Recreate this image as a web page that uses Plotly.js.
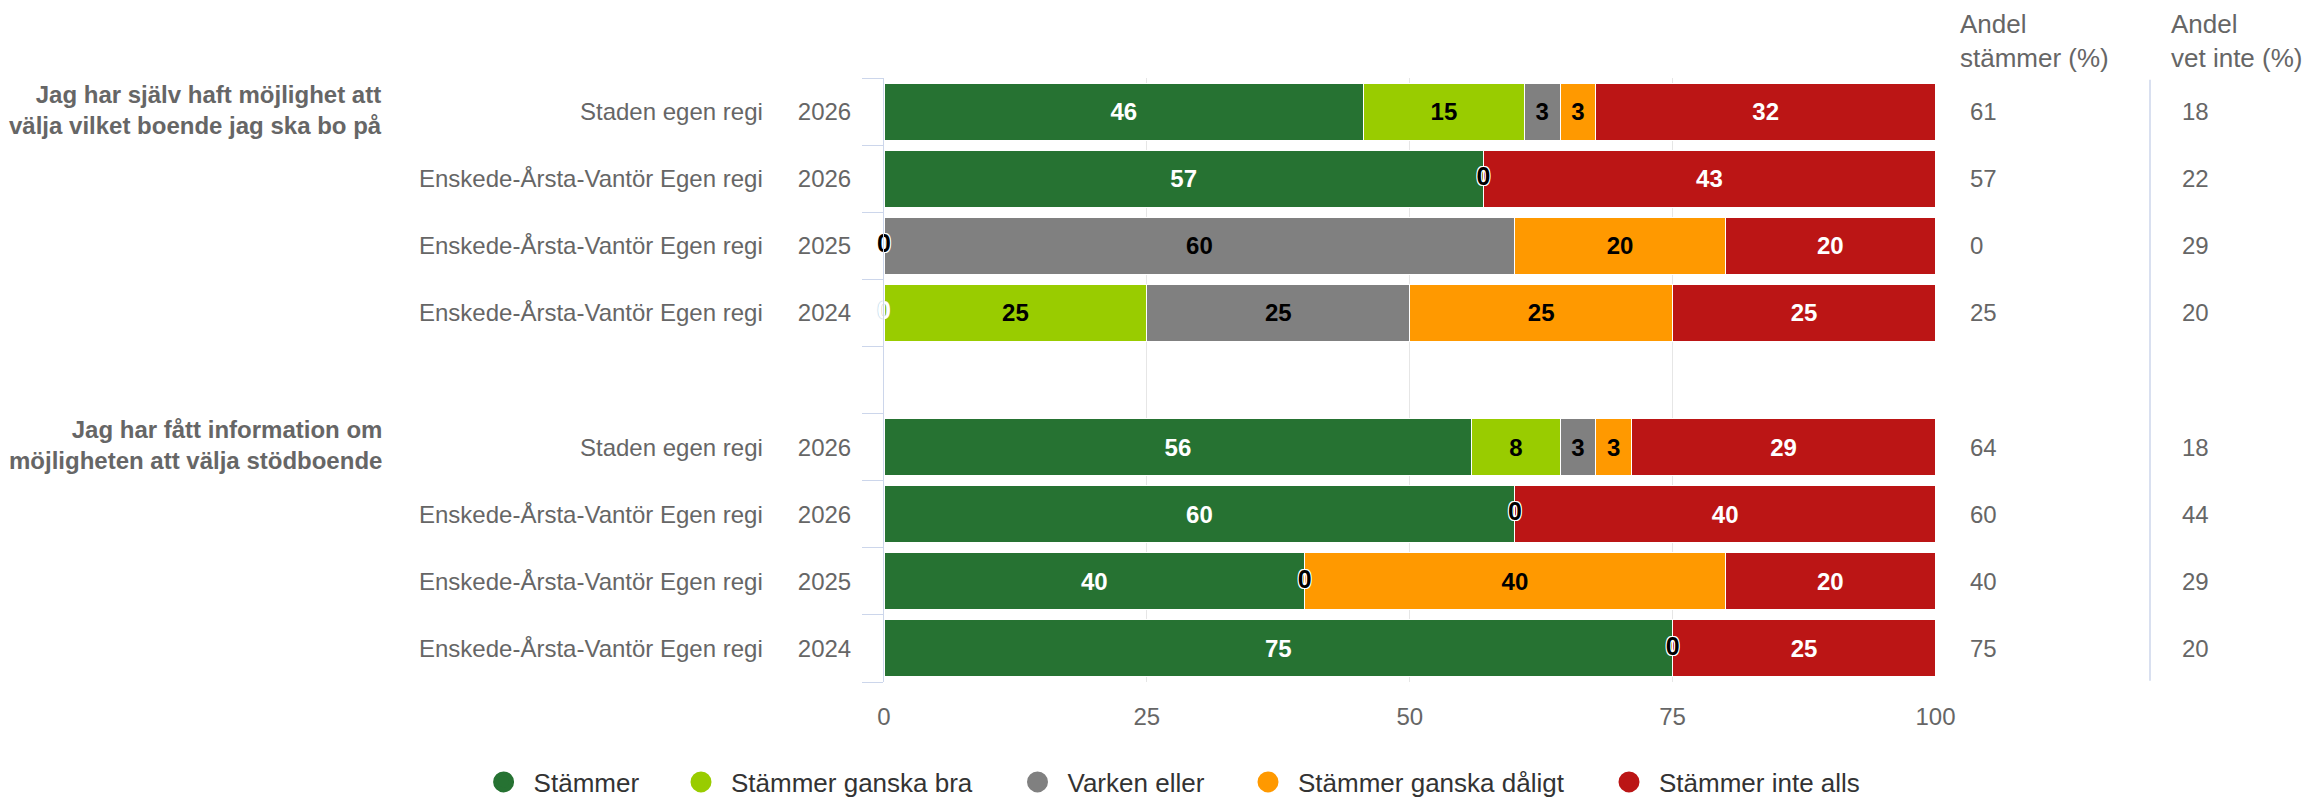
<!DOCTYPE html>
<html><head><meta charset="utf-8">
<script src="https://cdn.plot.ly/plotly-3.0.1.min.js"></script>
<style>html,body{margin:0;padding:0;background:#fff;} #chart{width:2307px;height:798px;}</style>
</head><body><div id="chart"></div>
<script>
// ---------- data ----------
const questions = ['Jag har själv haft möjlighet att<br>välja vilket boende jag ska bo på',
                   'Jag har fått information om<br>möjligheten att välja stödboende'];
const rowIds = ['r1','r2','r3','r4','gap','r5','r6','r7','r8'];
const rowQuestion = [0,0,0,0,null,1,1,1,1];
const units = ['Staden egen regi','Enskede-Årsta-Vantör Egen regi','Enskede-Årsta-Vantör Egen regi','Enskede-Årsta-Vantör Egen regi','',
               'Staden egen regi','Enskede-Årsta-Vantör Egen regi','Enskede-Årsta-Vantör Egen regi','Enskede-Årsta-Vantör Egen regi'];
const years = ['2026','2026','2025','2024','','2026','2026','2025','2024'];
const seriesNames = ['Stämmer','Stämmer ganska bra','Varken eller','Stämmer ganska dåligt','Stämmer inte alls'];
const stammer   = [45.6, 57, 0,  0, null, 55.9, 60, 40, 75];
const ganskaBra = [15.3,  0, 0, 25, null,  8.4,  0,  0,  0];
const varken    = [ 3.4,  0, 60, 25, null,  3.4,  0,  0,  0];
const daligt    = [ 3.4,  0, 20, 25, null,  3.4,  0, 40,  0];
const inteAlls  = [32.3, 43, 20, 25, null, 28.9, 40, 20, 25];
const andelStammer = [61, 57, 0, 25, null, 64, 60, 40, 75];
const andelVetInte = [18, 22, 29, 20, null, 18, 44, 29, 20];
const xTicks = [0, 25, 50, 75, 100];
const colHeaders = ['Andel<br>stämmer (%)', 'Andel<br>vet inte (%)'];

// ---------- style ----------
const FONT = 'Liberation Sans, Arial, Helvetica, sans-serif';
const colors = ['#267232','#99cc00','#808080','#ff9900','#bb1515'];
const textColors = ['#ffffff','#000000','#000000','#000000','#ffffff'];
const series = [stammer, ganskaBra, varken, daligt, inteAlls];

const W = 2307, H = 798;
const M = {l: 884, r: 371, t: 78, b: 116, autoexpand: false};
const PW = W - M.l - M.r, PH = H - M.t - M.b;
const px2x = p => (p - M.l) / PW;       // page x -> paper x
const py2y = p => (H - M.b - p) / PH;   // page y -> paper y

const traces = series.map((vals, i) => ({
  type: 'bar', orientation: 'h', name: seriesNames[i],
  x: vals, y: rowIds,
  marker: {color: colors[i], line: {color: '#ffffff', width: 1}},
  text: vals.map(v => (v ? String(Math.round(v)) : '')),
  textposition: 'inside', insidetextanchor: 'middle', textangle: 0,
  insidetextfont: {family: FONT, size: 24, color: textColors[i], weight: 'bold'},
  constraintext: 'none', cliponaxis: false,
  showlegend: false, hoverinfo: 'skip'
}));

// zero-value labels (shown once per stack position)
const zeroDark = {x: [], y: []}, zeroLight = {x: [], y: []};
rowIds.forEach((id, r) => {
  if (series[0][r] === null) return;
  let cum = 0; const at = {};
  series.forEach((vals, i) => {
    const v = vals[r];
    if (v === 0) {
      const k = cum.toFixed(3);
      at[k] = at[k] || {x: cum, dark: false};
      if (textColors[i] === '#000000') at[k].dark = true;
    }
    cum += v;
  });
  Object.values(at).forEach(p => { const t = p.dark ? zeroDark : zeroLight; t.x.push(p.x); t.y.push(id); });
});
traces.push({type: 'scatter', mode: 'text', x: zeroDark.x, y: zeroDark.y, text: zeroDark.x.map(() => '0'),
  textposition: 'middle center', cliponaxis: false, showlegend: false, hoverinfo: 'skip',
  textfont: {family: FONT, size: 25, color: '#000000', weight: 'bold',
             shadow: '1px 1px 0 #fff, -1px -1px 0 #fff, 1px -1px 0 #fff, -1px 1px 0 #fff, 0 1px 0 #fff, 0 -1px 0 #fff'}});
traces.push({type: 'scatter', mode: 'text', x: zeroLight.x, y: zeroLight.y, text: zeroLight.x.map(() => '0'),
  textposition: 'middle center', cliponaxis: false, showlegend: false, hoverinfo: 'skip',
  textfont: {family: FONT, size: 25, color: '#ffffff', weight: 'bold', shadow: '0 0 1px #999'}});

// legend entries (circles), one legend per entry
const legendCenters = [503.6, 701, 1037.5, 1268, 1629];
const legendKeys = ['legend','legend2','legend3','legend4','legend5'];
seriesNames.forEach((n, i) => {
  traces.push({type: 'scatter', mode: 'markers', name: n, x: [null], y: [null],
    legend: legendKeys[i],
    marker: {symbol: 'circle', size: 16, color: colors[i], line: {color: colors[i], width: 5}},
    showlegend: true, hoverinfo: 'skip'});
});

const annotations = [];
// unit labels + column values
rowIds.forEach((id, r) => {
  if (rowQuestion[r] === null) return;
  annotations.push({xref: 'paper', yref: 'y', x: px2x(765), y: id, xanchor: 'right', yanchor: 'middle',
    text: units[r], showarrow: false, font: {family: FONT, size: 24, color: '#666666'}});
  annotations.push({xref: 'paper', yref: 'y', x: px2x(1968), y: id, xanchor: 'left', yanchor: 'middle',
    text: String(andelStammer[r]), showarrow: false, font: {family: FONT, size: 24, color: '#666666'}});
  annotations.push({xref: 'paper', yref: 'y', x: px2x(2180), y: id, xanchor: 'left', yanchor: 'middle',
    text: String(andelVetInte[r]), showarrow: false, font: {family: FONT, size: 24, color: '#666666'}});
});
// question (group) labels
questions.forEach((q, qi) => {
  const first = rowQuestion.indexOf(qi);
  annotations.push({xref: 'paper', yref: 'y', x: px2x(384), y: rowIds[first], xanchor: 'right', yanchor: 'middle',
    yshift: 2, align: 'right', text: '<b>' + q + '</b>', showarrow: false,
    font: {family: FONT, size: 24, color: '#666666'}});
});
// column headers
[1958, 2169].forEach((p, i) => {
  annotations.push({xref: 'paper', yref: 'paper', x: px2x(p), y: py2y(41), xanchor: 'left', yanchor: 'middle',
    align: 'left', text: colHeaders[i], showarrow: false, font: {family: FONT, size: 26, color: '#666666'}});
});

const layout = {
  width: W, height: H, margin: M, paper_bgcolor: '#ffffff', plot_bgcolor: '#ffffff',
  barmode: 'stack', bargap: 0.15, showlegend: true,
  font: {family: FONT, color: '#666666'},
  xaxis: {range: [0, 100.05], tickmode: 'array', tickvals: xTicks, ticktext: xTicks.map(String),
    showgrid: true, gridcolor: '#e6e6e6', gridwidth: 1, zeroline: false, showline: false, ticks: '',
    tickfont: {family: FONT, size: 24, color: '#666666'}, ticklabelstandoff: 18, fixedrange: true},
  yaxis: {type: 'category', categoryorder: 'array', categoryarray: rowIds, range: [8.5, -0.5],
    tickmode: 'array', tickvals: rowIds, ticktext: years, tickson: 'boundaries',
    ticks: 'outside', ticklen: 21, tickwidth: 1, tickcolor: '#ccd6eb',
    showline: true, linecolor: '#ccd6eb', linewidth: 1, showgrid: false, zeroline: false,
    tickfont: {family: FONT, size: 24, color: '#666666'}, ticklabelstandoff: 27, fixedrange: true},
  shapes: [{type: 'line', xref: 'paper', yref: 'paper', x0: px2x(2150), x1: px2x(2150), y0: 0.002, y1: 0.997,
    line: {color: '#ccd6eb', width: 1.5}}],
  annotations: annotations
};
legendKeys.forEach((k, i) => {
  layout[k] = {orientation: 'h', x: px2x(legendCenters[i] - 30), xanchor: 'left', y: py2y(782), yanchor: 'middle',
    bgcolor: 'rgba(0,0,0,0)', borderwidth: 0, itemwidth: 50, itemclick: false, itemdoubleclick: false,
    font: {family: FONT, size: 26, color: '#333333'}};
});

Plotly.newPlot('chart', traces, layout, {displayModeBar: false, staticPlot: true});
</script></body></html>
